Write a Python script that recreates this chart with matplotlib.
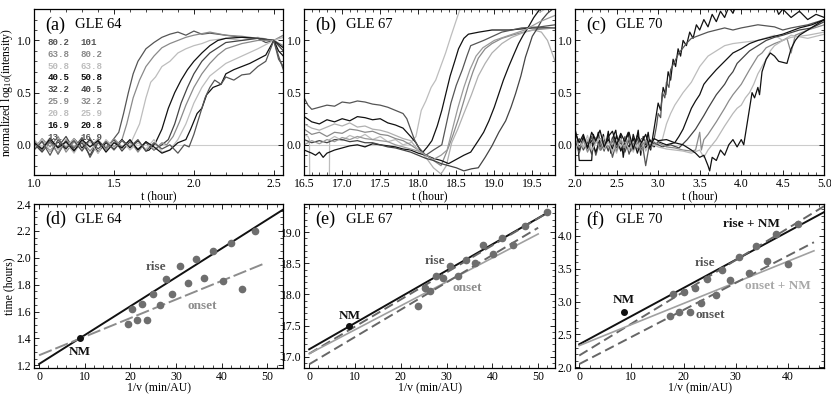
import numpy as np
import matplotlib
matplotlib.use('Agg')
import matplotlib.pyplot as plt
from matplotlib.ticker import MultipleLocator, FormatStrFormatter

plt.rcParams['font.family'] = 'Liberation Serif'
plt.rcParams['mathtext.fontset'] = 'custom'
plt.rcParams['mathtext.rm'] = 'Liberation Serif'
plt.rcParams['mathtext.it'] = 'Liberation Serif:italic'

BLACK = '#111111'
DARK = '#555555'
DARK2 = '#444444'
MID = '#8a8a8a'
LIGHT = '#bdbdbd'

# ---------------- (a) GLE 64 : normalized intensity profiles ----------------
chan_lo = ['80.2', '63.8', '50.8', '40.5', '32.2', '25.9', '20.8', '16.9', '13.']
chan_hi = ['101', '80.2', '63.8', '50.8', '40.5', '32.2', '25.9', '20.8', '16.9']
chan_col = [DARK, MID, LIGHT, BLACK, DARK2, MID, LIGHT, BLACK, DARK]

a1 = [(1.00, 0.03), (1.05, -0.06), (1.10, 0.05), (1.15, -0.09), (1.20, 0.04), (1.25, -0.03), (1.30, 0.07),
      (1.35, -0.12), (1.40, 0.02), (1.45, -0.05), (1.50, 0.06), (1.53, 0.12), (1.56, 0.30), (1.59, 0.50),
      (1.62, 0.68), (1.65, 0.80), (1.70, 0.92), (1.75, 0.98), (1.80, 1.03), (1.85, 1.06), (1.90, 1.08),
      (1.95, 1.05), (2.00, 1.09), (2.05, 1.06), (2.10, 1.07), (2.20, 1.05), (2.30, 1.03), (2.40, 1.02),
      (2.45, 0.98), (2.50, 1.00), (2.53, 0.85), (2.56, 0.72)]
a2 = [(1.00, -0.04), (1.05, 0.06), (1.10, -0.02), (1.15, 0.08), (1.20, -0.07), (1.25, 0.03), (1.30, -0.05),
      (1.35, 0.05), (1.40, -0.08), (1.45, 0.04), (1.50, -0.02), (1.55, 0.05), (1.58, 0.20), (1.62, 0.45),
      (1.66, 0.62), (1.70, 0.75), (1.75, 0.85), (1.80, 0.93), (1.85, 0.97), (1.90, 1.00), (1.95, 1.03),
      (2.00, 1.05), (2.10, 1.08), (2.20, 1.05), (2.30, 1.04), (2.40, 1.02), (2.50, 1.00), (2.56, 0.95)]
a3 = [(1.00, 0.05), (1.05, -0.03), (1.10, 0.07), (1.15, -0.05), (1.20, 0.02), (1.25, -0.08), (1.30, 0.04),
      (1.35, -0.02), (1.40, 0.06), (1.45, -0.06), (1.50, 0.03), (1.55, -0.04), (1.60, 0.00), (1.63, 0.10),
      (1.66, 0.20), (1.70, 0.45), (1.73, 0.60), (1.76, 0.65), (1.80, 0.75), (1.85, 0.80), (1.90, 0.88),
      (1.95, 0.92), (2.00, 0.95), (2.05, 0.97), (2.10, 1.00), (2.20, 1.02), (2.30, 1.00), (2.40, 1.03),
      (2.50, 1.00), (2.56, 1.05)]
a4 = [(1.00, -0.02), (1.05, 0.04), (1.10, -0.06), (1.15, 0.03), (1.20, -0.04), (1.25, 0.06), (1.30, -0.03),
      (1.35, 0.05), (1.40, -0.07), (1.45, 0.02), (1.50, -0.04), (1.55, 0.05), (1.60, -0.03), (1.65, 0.04),
      (1.70, -0.06), (1.72, -0.05), (1.76, 0.02), (1.80, 0.15), (1.84, 0.35), (1.88, 0.50), (1.92, 0.62),
      (1.96, 0.72), (2.00, 0.80), (2.05, 0.88), (2.10, 0.95), (2.15, 1.00), (2.20, 1.02), (2.30, 1.03),
      (2.40, 1.02), (2.50, 1.00), (2.56, 0.93)]
a5 = [(1.00, 0.01), (1.05, -0.07), (1.10, 0.03), (1.15, -0.02), (1.20, 0.08), (1.25, -0.05), (1.30, 0.02),
      (1.35, -0.10), (1.40, 0.04), (1.45, -0.03), (1.50, 0.05), (1.55, -0.06), (1.60, 0.03), (1.65, -0.04),
      (1.70, 0.02), (1.75, -0.05), (1.80, 0.00), (1.84, 0.05), (1.88, 0.20), (1.92, 0.40), (1.96, 0.55),
      (2.00, 0.68), (2.05, 0.80), (2.10, 0.88), (2.15, 0.93), (2.20, 0.98), (2.30, 1.00), (2.40, 1.02),
      (2.50, 1.00), (2.56, 0.90)]
a6 = [(1.00, 0.04), (1.05, -0.05), (1.10, 0.02), (1.15, -0.08), (1.20, 0.05), (1.25, -0.02), (1.30, 0.04),
      (1.35, -0.06), (1.40, 0.03), (1.45, -0.04), (1.50, 0.06), (1.55, -0.02), (1.60, 0.04), (1.65, -0.07),
      (1.70, 0.03), (1.75, -0.05), (1.80, 0.02), (1.83, 0.00), (1.87, 0.08), (1.91, 0.22), (1.95, 0.38),
      (2.00, 0.55), (2.05, 0.68), (2.10, 0.78), (2.15, 0.86), (2.20, 0.92), (2.30, 0.97), (2.40, 1.00),
      (2.50, 1.00), (2.56, 1.05)]
a7 = [(1.00, -0.03), (1.05, 0.05), (1.10, -0.06), (1.15, 0.04), (1.20, -0.02), (1.25, 0.06), (1.30, -0.05),
      (1.35, 0.03), (1.40, -0.08), (1.45, 0.05), (1.50, -0.03), (1.55, 0.04), (1.60, -0.05), (1.65, 0.02),
      (1.70, -0.04), (1.75, 0.05), (1.80, -0.07), (1.85, -0.05), (1.90, 0.05), (1.95, 0.20), (2.00, 0.40),
      (2.05, 0.55), (2.10, 0.66), (2.15, 0.72), (2.20, 0.78), (2.30, 0.85), (2.40, 0.92), (2.50, 1.00),
      (2.56, 1.03)]
a8 = [(1.00, 0.02), (1.05, -0.04), (1.10, 0.06), (1.15, -0.03), (1.20, 0.03), (1.25, -0.06), (1.30, 0.05),
      (1.35, -0.02), (1.40, 0.04), (1.45, -0.07), (1.50, 0.02), (1.55, -0.03), (1.60, 0.05), (1.65, -0.05),
      (1.70, 0.03), (1.75, -0.02), (1.80, -0.08), (1.85, -0.05), (1.90, 0.02), (1.95, 0.05), (1.98, 0.15),
      (2.02, 0.30), (2.05, 0.35), (2.08, 0.48), (2.12, 0.55), (2.17, 0.58), (2.20, 0.68), (2.25, 0.72),
      (2.30, 0.75), (2.35, 0.78), (2.40, 0.82), (2.45, 0.86), (2.50, 1.00), (2.53, 0.90), (2.56, 0.85)]
a9 = [(1.00, -0.05), (1.05, 0.03), (1.10, -0.10), (1.15, 0.05), (1.20, -0.03), (1.25, 0.04), (1.30, -0.06),
      (1.35, 0.06), (1.40, -0.04), (1.45, 0.03), (1.50, -0.05), (1.55, 0.04), (1.60, -0.02), (1.65, 0.05),
      (1.70, -0.06), (1.75, 0.02), (1.80, -0.04), (1.85, 0.00), (1.90, -0.08), (1.94, 0.00), (1.97, -0.02),
      (2.00, 0.10), (2.03, 0.25), (2.07, 0.45), (2.10, 0.55), (2.13, 0.62), (2.17, 0.58), (2.20, 0.65),
      (2.25, 0.62), (2.30, 0.67), (2.35, 0.68), (2.40, 0.75), (2.45, 0.80), (2.50, 1.00), (2.53, 0.82),
      (2.56, 0.75)]
a_curves = [a1, a2, a3, a4, a5, a6, a7, a8, a9]

# ---------------- (b) GLE 67 ----------------
b1 = [(16.50, 0.10), (16.55, 0.08), (16.57, 0.05), (16.575, -0.60), (16.83, -0.60), (16.835, 0.05), (16.90, 0.08),
      (17.00, 0.04), (17.10, 0.09), (17.20, 0.06), (17.30, 0.10), (17.40, 0.05), (17.50, 0.08), (17.60, 0.03),
      (17.70, 0.05), (17.80, 0.00), (17.90, 0.02), (17.97, 0.08), (18.04, 0.33), (18.10, 0.42), (18.17, 0.55),
      (18.23, 0.62), (18.30, 0.76), (18.36, 0.88), (18.43, 1.04), (18.54, 1.28), (18.60, 1.36), (19.00, 1.36),
      (19.40, 1.34), (19.60, 1.27), (19.80, 1.36)]
b2 = [(16.50, 0.27), (16.60, 0.22), (16.70, 0.20), (16.80, 0.24), (16.90, 0.22), (17.00, 0.25), (17.10, 0.23),
      (17.20, 0.27), (17.30, 0.26), (17.40, 0.24), (17.50, 0.25), (17.60, 0.21), (17.70, 0.19), (17.80, 0.16),
      (17.90, 0.08), (17.97, 0.02), (18.05, -0.08), (18.12, -0.02), (18.18, 0.04), (18.25, 0.18), (18.31, 0.33),
      (18.36, 0.48), (18.42, 0.66), (18.48, 0.80), (18.53, 0.92), (18.60, 1.02), (18.66, 1.06), (18.80, 1.08),
      (18.97, 1.10), (19.20, 1.10), (19.50, 1.12), (19.80, 1.12)]
b3 = [(16.50, 0.45), (16.55, 0.38), (16.60, 0.34), (16.70, 0.36), (16.80, 0.38), (16.90, 0.37), (17.00, 0.41),
      (17.10, 0.40), (17.20, 0.42), (17.30, 0.41), (17.40, 0.39), (17.50, 0.38), (17.60, 0.36), (17.70, 0.33),
      (17.80, 0.30), (17.85, 0.25), (17.90, 0.15), (17.95, 0.05), (18.00, -0.02), (18.10, -0.10), (18.20, -0.05),
      (18.31, 0.00), (18.37, 0.20), (18.43, 0.40), (18.50, 0.57), (18.58, 0.72), (18.64, 0.85), (18.69, 0.95),
      (18.86, 1.00), (19.10, 1.08), (19.36, 1.12), (19.60, 1.13), (19.80, 1.15)]
b4 = [(16.50, 0.15), (16.60, 0.10), (16.70, 0.12), (16.80, 0.08), (16.90, 0.12), (17.00, 0.11), (17.10, 0.15),
      (17.20, 0.14), (17.30, 0.12), (17.40, 0.13), (17.50, 0.10), (17.60, 0.09), (17.70, 0.06), (17.80, 0.04),
      (17.90, 0.00), (18.00, -0.05), (18.10, -0.10), (18.20, -0.15), (18.30, -0.20), (18.40, -0.02),
      (18.46, 0.10), (18.53, 0.25), (18.60, 0.42), (18.66, 0.57), (18.72, 0.70), (18.79, 0.83), (18.88, 0.92),
      (18.97, 0.97), (19.10, 1.02), (19.23, 1.05), (19.50, 1.10), (19.80, 1.12)]
b5 = [(16.50, 0.20), (16.60, 0.16), (16.70, 0.14), (16.80, 0.17), (16.90, 0.20), (17.00, 0.18), (17.10, 0.21),
      (17.20, 0.17), (17.30, 0.18), (17.40, 0.15), (17.50, 0.14), (17.60, 0.12), (17.70, 0.09), (17.80, 0.06),
      (17.90, 0.04), (18.00, -0.05), (18.10, -0.12), (18.20, -0.22), (18.30, -0.28), (18.37, -0.20),
      (18.44, 0.02), (18.52, 0.15), (18.60, 0.30), (18.70, 0.48), (18.79, 0.66), (18.88, 0.78), (18.97, 0.88),
      (19.10, 0.97), (19.23, 1.03), (19.40, 1.08), (19.52, 1.10), (19.62, 1.08), (19.70, 1.00), (19.75, 0.90),
      (19.80, 0.80)]
b6 = [(16.50, -0.05), (16.60, -0.08), (16.65, -0.10), (16.70, -0.07), (16.75, -0.12), (16.80, -0.08), (16.90, -0.05),
      (17.00, -0.03), (17.10, -0.01), (17.20, 0.00), (17.30, -0.02), (17.40, 0.01), (17.50, 0.00), (17.60, -0.01),
      (17.70, -0.02), (17.80, -0.04), (17.90, -0.05), (18.00, -0.08), (18.10, -0.10), (18.20, -0.13),
      (18.30, -0.15), (18.40, -0.18), (18.50, -0.14), (18.60, -0.10), (18.69, -0.07), (18.79, 0.04),
      (18.86, 0.12), (18.93, 0.23), (19.00, 0.36), (19.06, 0.49), (19.12, 0.62), (19.19, 0.75), (19.26, 0.87),
      (19.32, 0.97), (19.38, 1.05), (19.45, 1.13), (19.52, 1.22), (19.60, 1.30), (19.80, 1.36)]
b7 = [(16.50, 0.05), (16.60, 0.02), (16.70, 0.04), (16.80, 0.02), (16.90, 0.05), (17.00, 0.05), (17.10, 0.03),
      (17.20, 0.04), (17.30, 0.02), (17.40, 0.02), (17.50, 0.00), (17.60, -0.02), (17.70, -0.03), (17.80, -0.05),
      (17.90, -0.07), (18.00, -0.10), (18.10, -0.13), (18.20, -0.15), (18.30, -0.18), (18.40, -0.20),
      (18.50, -0.22), (18.60, -0.25), (18.70, -0.23), (18.79, -0.22), (18.88, -0.12), (18.97, -0.01),
      (19.06, 0.12), (19.15, 0.23), (19.22, 0.36), (19.28, 0.49), (19.35, 0.66), (19.41, 0.84), (19.46, 0.95),
      (19.50, 1.04), (19.57, 1.12), (19.63, 1.20), (19.70, 1.26), (19.80, 1.32)]
b8 = [(16.50, 0.00), (16.60, 0.04), (16.70, 0.01), (16.80, 0.05), (16.90, 0.03), (17.00, 0.07), (17.10, 0.05),
      (17.20, 0.08), (17.30, 0.06), (17.40, 0.05), (17.50, 0.04), (17.60, 0.03), (17.70, 0.00), (17.80, -0.02),
      (17.90, -0.04), (18.00, -0.06), (18.10, -0.10), (18.20, -0.14), (18.30, -0.10), (18.38, -0.05),
      (18.45, 0.15), (18.52, 0.35), (18.60, 0.55), (18.68, 0.72), (18.76, 0.85), (18.85, 0.93), (19.00, 1.00),
      (19.20, 1.05), (19.40, 1.10), (19.60, 1.18), (19.80, 1.24)]
b_curves = [b1, b2, b3, b4, b5, b6, b7, b8]
b_col = [LIGHT, BLACK, DARK, MID, '#b0b0b0', BLACK, DARK2, '#9a9a9a']

# ---------------- (c) GLE 70 ----------------
c1 = [(2.00, 0.15), (2.03, 0.05), (2.05, -0.15), (2.20, -0.15), (2.22, 0.10), (2.25, 0.02), (2.28, 0.12),
      (2.31, -0.05), (2.34, 0.10), (2.37, 0.00), (2.40, 0.13), (2.43, -0.08), (2.46, 0.08), (2.49, 0.14),
      (2.52, -0.02), (2.55, 0.10), (2.58, -0.12), (2.61, 0.06), (2.64, 0.12), (2.67, -0.06), (2.70, 0.10),
      (2.73, 0.02), (2.76, 0.14), (2.79, -0.10), (2.82, 0.08), (2.85, 0.00), (2.88, 0.12), (2.91, -0.05),
      (2.94, 0.10), (2.97, 0.25), (3.00, 0.40), (3.03, 0.33), (3.06, 0.55), (3.09, 0.48), (3.12, 0.70),
      (3.15, 0.62), (3.18, 0.82), (3.21, 0.75), (3.24, 0.92), (3.27, 0.85), (3.30, 1.00), (3.34, 0.95),
      (3.38, 1.08), (3.42, 1.02), (3.46, 1.15), (3.50, 1.10), (3.55, 1.20), (3.60, 1.13), (3.65, 1.25),
      (3.70, 1.18), (3.75, 1.28), (3.80, 1.22), (3.85, 1.32), (3.90, 1.26), (3.95, 1.36), (4.40, 1.36),
      (4.45, 1.25), (4.50, 1.30), (4.60, 1.22), (4.70, 1.28), (4.80, 1.20), (4.90, 1.25), (5.00, 1.22)]
c2 = [(2.00, 0.05), (2.05, -0.08), (2.10, 0.06), (2.15, -0.04), (2.20, 0.08), (2.25, -0.10), (2.30, 0.04),
      (2.35, -0.06), (2.40, 0.07), (2.45, -0.12), (2.50, 0.03), (2.55, -0.05), (2.60, 0.08), (2.65, -0.09),
      (2.70, 0.02), (2.75, -0.04), (2.80, 0.06), (2.85, -0.20), (2.90, 0.03), (2.95, 0.05), (2.98, 0.18),
      (3.00, 0.30), (3.03, 0.26), (3.05, 0.50), (3.08, 0.45), (3.10, 0.60), (3.13, 0.55), (3.15, 0.72),
      (3.20, 0.80), (3.25, 0.88), (3.30, 0.93), (3.35, 0.98), (3.40, 1.02), (3.50, 1.05), (3.60, 1.08),
      (3.70, 1.10), (3.80, 1.12), (3.90, 1.10), (4.00, 1.12), (4.20, 1.15), (4.40, 1.13), (4.50, 1.10),
      (4.60, 1.12), (4.80, 1.15), (5.00, 1.20)]
c3 = [(2.00, -0.04), (2.05, 0.05), (2.10, -0.02), (2.15, 0.09), (2.20, -0.06), (2.25, 0.04), (2.30, -0.03),
      (2.35, 0.08), (2.40, -0.05), (2.45, 0.02), (2.50, -0.08), (2.55, 0.06), (2.60, -0.02), (2.65, 0.05),
      (2.70, -0.07), (2.75, 0.03), (2.80, -0.04), (2.85, 0.05), (2.90, -0.02), (2.95, 0.03), (3.00, 0.00),
      (3.05, 0.05), (3.10, 0.20), (3.15, 0.30), (3.20, 0.38), (3.30, 0.50), (3.40, 0.60), (3.50, 0.75),
      (3.60, 0.85), (3.70, 0.90), (3.80, 0.95), (3.90, 0.97), (4.00, 0.98), (4.20, 1.00), (4.40, 1.05),
      (4.50, 1.00), (4.60, 1.05), (4.80, 1.02), (5.00, 1.06)]
c4 = [(2.00, 0.03), (2.05, -0.05), (2.10, 0.08), (2.15, -0.02), (2.20, 0.04), (2.25, -0.07), (2.30, 0.06),
      (2.35, -0.03), (2.40, 0.05), (2.45, -0.04), (2.50, 0.09), (2.55, -0.06), (2.60, 0.03), (2.65, -0.02),
      (2.70, 0.06), (2.75, -0.08), (2.80, 0.04), (2.85, -0.03), (2.90, 0.05), (2.95, -0.02), (3.00, 0.03),
      (3.10, 0.00), (3.20, 0.02), (3.25, 0.08), (3.30, 0.15), (3.35, 0.25), (3.40, 0.35), (3.45, 0.42),
      (3.50, 0.48), (3.55, 0.58), (3.60, 0.63), (3.70, 0.72), (3.80, 0.80), (3.90, 0.88), (4.00, 0.92),
      (4.10, 0.97), (4.20, 1.00), (4.30, 1.02), (4.50, 1.06), (4.70, 1.12), (4.85, 1.15), (5.00, 1.20)]
c5 = [(2.00, -0.02), (2.05, 0.06), (2.10, -0.05), (2.15, 0.03), (2.20, -0.09), (2.25, 0.05), (2.30, -0.02),
      (2.35, 0.04), (2.40, -0.06), (2.45, 0.07), (2.50, -0.03), (2.55, 0.02), (2.60, -0.07), (2.65, 0.05),
      (2.70, -0.03), (2.75, 0.06), (2.80, -0.05), (2.85, 0.02), (2.90, -0.04), (2.95, 0.02), (3.05, -0.02),
      (3.15, 0.00), (3.25, -0.03), (3.35, 0.05), (3.45, 0.15), (3.55, 0.28), (3.60, 0.35), (3.70, 0.48),
      (3.80, 0.58), (3.85, 0.65), (3.90, 0.70), (3.95, 0.78), (4.00, 0.82), (4.10, 0.90), (4.20, 0.95),
      (4.30, 1.00), (4.40, 1.03), (4.50, 1.05), (4.70, 1.10), (4.85, 1.12), (5.00, 1.18)]
c6 = [(2.00, 0.06), (2.05, -0.03), (2.10, 0.04), (2.15, -0.07), (2.20, 0.02), (2.25, 0.07), (2.30, -0.05),
      (2.35, 0.03), (2.40, -0.02), (2.45, 0.05), (2.50, -0.06), (2.55, 0.04), (2.60, -0.03), (2.65, 0.07),
      (2.70, -0.05), (2.75, 0.02), (2.80, -0.06), (2.85, 0.04), (2.90, -0.03), (3.00, 0.02), (3.10, -0.02),
      (3.20, -0.03), (3.30, -0.05), (3.40, -0.06), (3.45, -0.05), (3.50, 0.12), (3.52, -0.05), (3.55, 0.05),
      (3.60, 0.10), (3.70, 0.22), (3.80, 0.35), (3.85, 0.42), (3.90, 0.48), (4.00, 0.58), (4.05, 0.65),
      (4.10, 0.72), (4.20, 0.85), (4.25, 0.88), (4.30, 0.93), (4.40, 0.97), (4.50, 1.00), (4.55, 1.02),
      (4.60, 0.88), (4.65, 1.05), (4.80, 1.10), (5.00, 1.15)]
c7 = [(2.00, -0.06), (2.05, 0.04), (2.10, -0.03), (2.15, 0.05), (2.20, -0.05), (2.25, 0.02), (2.30, 0.06),
      (2.35, -0.04), (2.40, 0.03), (2.45, -0.07), (2.50, 0.05), (2.55, -0.02), (2.60, 0.04), (2.65, -0.05),
      (2.70, 0.03), (2.75, -0.03), (2.80, 0.05), (2.85, -0.06), (2.90, 0.02), (3.00, -0.02), (3.10, -0.04),
      (3.20, -0.05), (3.30, -0.06), (3.40, -0.08), (3.50, -0.05), (3.55, -0.12), (3.60, -0.05), (3.65, 0.00),
      (3.70, 0.05), (3.80, 0.18), (3.90, 0.30), (3.95, 0.35), (4.00, 0.38), (4.05, 0.45), (4.10, 0.50),
      (4.15, 0.58), (4.20, 0.68), (4.25, 0.75), (4.30, 0.82), (4.35, 0.90), (4.40, 0.95), (4.50, 1.00),
      (4.60, 1.03), (4.80, 1.05), (5.00, 1.08)]
c8 = [(2.00, 0.12), (2.05, 0.02), (2.10, 0.10), (2.15, -0.03), (2.20, 0.12), (2.25, 0.04), (2.30, 0.14),
      (2.35, -0.02), (2.40, 0.08), (2.45, 0.13), (2.50, 0.00), (2.55, 0.11), (2.60, 0.03), (2.65, 0.12),
      (2.70, -0.04), (2.75, 0.09), (2.80, 0.02), (2.85, 0.10), (2.90, -0.03), (2.95, 0.06), (3.00, 0.04),
      (3.10, 0.05), (3.20, 0.02), (3.30, 0.00), (3.40, -0.05), (3.45, -0.08), (3.50, -0.12), (3.55, -0.10),
      (3.60, -0.20), (3.62, -0.25), (3.65, -0.12), (3.70, -0.15), (3.75, -0.05), (3.80, -0.10), (3.85, 0.00),
      (3.90, 0.05), (3.95, -0.02), (4.00, 0.05), (4.03, 0.00), (4.07, 0.20), (4.10, 0.35), (4.13, 0.50),
      (4.16, 0.45), (4.20, 0.55), (4.22, 0.48), (4.25, 0.70), (4.30, 0.82), (4.35, 0.88), (4.40, 0.85),
      (4.45, 0.80), (4.50, 0.79), (4.55, 0.78), (4.60, 0.92), (4.65, 1.00), (4.70, 1.05), (4.80, 1.10),
      (4.90, 1.15), (5.00, 1.20)]
c_curves = [c1, c2, c3, c4, c5, c6, c7, c8]
c_col = [BLACK, DARK, LIGHT, BLACK, DARK2, MID, '#b8b8b8', BLACK]

# ---------------- (d) GLE 64 : timing vs 1/v ----------------
d_rise_x = [20.4, 22.5, 24.9, 27.7, 30.9, 34.3, 38.1, 42.1, 47.2]
d_rise_y = [1.62, 1.66, 1.73, 1.84, 1.94, 1.99, 2.05, 2.11, 2.20]
d_onset_x = [19.4, 21.4, 23.7, 26.5, 29.2, 32.6, 36.2, 40.2, 44.5]
d_onset_y = [1.51, 1.54, 1.54, 1.65, 1.73, 1.81, 1.85, 1.83, 1.77]
d_nm = (9.0, 1.40)
d_rise_fit = ([0, 53.5], [1.21, 2.36])
d_onset_fit = ([0, 49.5], [1.275, 1.96])

# ---------------- (e) GLE 67 ----------------
e_rise_x = [25.2, 27.8, 30.8, 34.2, 38.0, 42.2, 47.2, 52.0]
e_rise_y = [18.10, 18.29, 18.45, 18.56, 18.80, 18.91, 19.10, 19.32]
e_onset_x = [23.8, 26.3, 29.2, 32.6, 36.2, 40.2, 44.5]
e_onset_y = [17.82, 18.05, 18.27, 18.30, 18.51, 18.65, 18.80]
e_nm = (8.8, 17.50)
e_rise_nm_fit = ([0, 52.5], [17.12, 19.33])
e_rise_fit = ([0, 52.5], [17.05, 19.33])
e_onset_nm_fit = ([0, 50], [17.05, 18.97])
e_onset_fit = ([0, 50], [16.88, 19.07])

# ---------------- (f) GLE 70 ----------------
f_rise_x = [18.0, 20.1, 22.2, 24.5, 27.4, 30.6, 33.9, 37.8, 42.0]
f_rise_y = [3.12, 3.15, 3.20, 3.34, 3.48, 3.67, 3.85, 4.02, 4.17]
f_onset_x = [17.5, 19.2, 21.3, 23.4, 26.2, 29.0, 32.5, 36.0, 40.0]
f_onset_y = [2.78, 2.84, 2.84, 2.97, 3.10, 3.32, 3.44, 3.62, 3.57]
f_nm = (8.5, 2.84)
f_rise_nm_fit = ([0, 47], [2.35, 4.36])
f_rise_fit = ([0, 47], [2.18, 4.45])
f_onset_nm_fit = ([0, 45], [2.33, 3.77])
f_onset_fit = ([0, 45], [2.05, 3.90])


def frame(ax, xlim, ylim, xmaj, xmin, ymaj, ymin, xfmt, yfmt):
    ax.set_xlim(xlim)
    ax.set_ylim(ylim)
    ax.xaxis.set_major_locator(MultipleLocator(xmaj))
    ax.xaxis.set_minor_locator(MultipleLocator(xmin))
    ax.yaxis.set_major_locator(MultipleLocator(ymaj))
    ax.yaxis.set_minor_locator(MultipleLocator(ymin))
    ax.xaxis.set_major_formatter(FormatStrFormatter(xfmt))
    ax.yaxis.set_major_formatter(FormatStrFormatter(yfmt))
    ax.tick_params(which='both', direction='in', top=True, right=True, labelsize=8.5, pad=2)
    ax.tick_params(which='major', length=3.5, width=0.6)
    ax.tick_params(which='minor', length=2, width=0.5)
    for s in ax.spines.values():
        s.set_linewidth(0.9)


def panel_title(ax, tag, name):
    ax.text(0.045, 0.905, tag, transform=ax.transAxes, fontsize=13, va='center', ha='left')
    ax.text(0.165, 0.905, name, transform=ax.transAxes, fontsize=10.5, va='center', ha='left')


def draw_curves(ax, curves, colors):
    ax.axhline(0, color='#cccccc', lw=0.8, zorder=0)
    for cur, col in zip(curves, colors):
        arr = np.array(cur)
        ax.plot(arr[:, 0], arr[:, 1], color=col, lw=0.9)


fig = plt.figure(figsize=(8.31, 3.97), dpi=100)
lefts = [0.041, 0.366, 0.692]
w = 0.300
top_b, top_h = 0.559, 0.418
bot_b, bot_h = 0.073, 0.413

ax_a = fig.add_axes([lefts[0], top_b, w, top_h])
ax_b = fig.add_axes([lefts[1], top_b, w + 0.002, top_h])
ax_c = fig.add_axes([lefts[2], top_b, w, top_h])
ax_d = fig.add_axes([lefts[0], bot_b, w, bot_h])
ax_e = fig.add_axes([lefts[1], bot_b, w + 0.002, bot_h])
ax_f = fig.add_axes([lefts[2], bot_b, w, bot_h])

# top row
draw_curves(ax_a, a_curves, chan_col)
frame(ax_a, (1.0, 2.56), (-0.29, 1.30), 0.5, 0.1, 0.5, 0.1, '%.1f', '%.1f')
panel_title(ax_a, '(a)', 'GLE 64')
for i, (lo, hi, col) in enumerate(zip(chan_lo, chan_hi, chan_col)):
    yy = 0.80 - i * 0.0715
    ax_a.text(0.055, yy, lo, transform=ax_a.transAxes, family='Liberation Mono', weight='bold',
              fontsize=6.6, color=col, va='center')
    ax_a.text(0.185, yy, hi, transform=ax_a.transAxes, family='Liberation Mono', weight='bold',
              fontsize=6.6, color=col, va='center')
ax_a.set_ylabel(r'normalized log$_{10}$(intensity)', fontsize=8.5, labelpad=1)

draw_curves(ax_b, b_curves, b_col)
frame(ax_b, (16.5, 19.8), (-0.29, 1.30), 0.5, 0.1, 0.5, 0.1, '%.1f', '%.1f')
panel_title(ax_b, '(b)', 'GLE 67')

draw_curves(ax_c, c_curves, c_col)
frame(ax_c, (2.0, 5.0), (-0.29, 1.30), 0.5, 0.1, 0.5, 0.1, '%.1f', '%.1f')
panel_title(ax_c, '(c)', 'GLE 70')

for ax in (ax_a, ax_b, ax_c):
    ax.set_xlabel('t (hour)', fontsize=8.5, labelpad=0)

# bottom row
dot = dict(marker='o', ls='none', ms=4.5, color='#6e6e6e')
bold = dict(fontsize=9.5, weight='bold')

ax_d.plot(*d_rise_fit, color=BLACK, lw=1.4)
ax_d.plot(*d_onset_fit, color='#8c8c8c', lw=1.4, dashes=(7, 2))
ax_d.plot(d_rise_x, d_rise_y, **dot)
ax_d.plot(d_onset_x, d_onset_y, **dot)
ax_d.plot(*d_nm, marker='o', ms=4, color=BLACK)
ax_d.text(8.9, 1.30, 'NM', color=BLACK, ha='center', va='center', **bold)
ax_d.text(25.5, 1.93, 'rise', color='#555555', ha='center', va='center', **bold)
ax_d.text(35.7, 1.64, 'onset', color='#8c8c8c', ha='center', va='center', **bold)
frame(ax_d, (-1.1, 53.5), (1.18, 2.40), 10, 2, 0.2, 0.05, '%d', '%.1f')
panel_title(ax_d, '(d)', 'GLE 64')
ax_d.set_ylabel('time (hours)', fontsize=8.5, labelpad=1)

ax_e.plot(*e_rise_nm_fit, color=BLACK, lw=1.4)
ax_e.plot(*e_rise_fit, color='#666666', lw=1.4, dashes=(5, 2.5))
ax_e.plot(*e_onset_nm_fit, color='#a0a0a0', lw=1.2)
ax_e.plot(*e_onset_fit, color='#666666', lw=1.4, dashes=(5, 2.5))
ax_e.plot(e_rise_x, e_rise_y, **dot)
ax_e.plot(e_onset_x, e_onset_y, **dot)
ax_e.plot(*e_nm, marker='o', ms=4, color=BLACK)
ax_e.text(8.8, 17.66, 'NM', color=BLACK, ha='center', va='center', **bold)
ax_e.text(27.5, 18.54, 'rise', color='#555555', ha='center', va='center', **bold)
ax_e.text(34.6, 18.10, 'onset', color='#8c8c8c', ha='center', va='center', **bold)
frame(ax_e, (-1.1, 53.7), (16.82, 19.45), 10, 2, 0.5, 0.1, '%d', '%.1f')
panel_title(ax_e, '(e)', 'GLE 67')

ax_f.plot(*f_rise_nm_fit, color=BLACK, lw=1.4)
ax_f.plot(*f_rise_fit, color='#666666', lw=1.4, dashes=(5, 2.5))
ax_f.plot(*f_onset_nm_fit, color='#a0a0a0', lw=1.2)
ax_f.plot(*f_onset_fit, color='#666666', lw=1.4, dashes=(5, 2.5))
ax_f.plot(f_rise_x, f_rise_y, **dot)
ax_f.plot(f_onset_x, f_onset_y, **dot)
ax_f.plot(*f_nm, marker='o', ms=4, color=BLACK)
ax_f.text(8.5, 3.02, 'NM', color=BLACK, ha='center', va='center', **bold)
ax_f.text(33.1, 4.18, 'rise + NM', color=BLACK, ha='center', va='center', **bold)
ax_f.text(24.2, 3.59, 'rise', color='#555555', ha='center', va='center', **bold)
ax_f.text(38.0, 3.23, 'onset + NM', color='#a8a8a8', ha='center', va='center', **bold)
ax_f.text(25.1, 2.80, 'onset', color='#555555', ha='center', va='center', **bold)
frame(ax_f, (-0.8, 47.0), (1.99, 4.48), 10, 2, 0.5, 0.1, '%d', '%.1f')
panel_title(ax_f, '(f)', 'GLE 70')

for ax in (ax_d, ax_e, ax_f):
    ax.set_xlabel('1/v (min/AU)', fontsize=8.5, labelpad=0)

fig.savefig('out.png', dpi=100)
